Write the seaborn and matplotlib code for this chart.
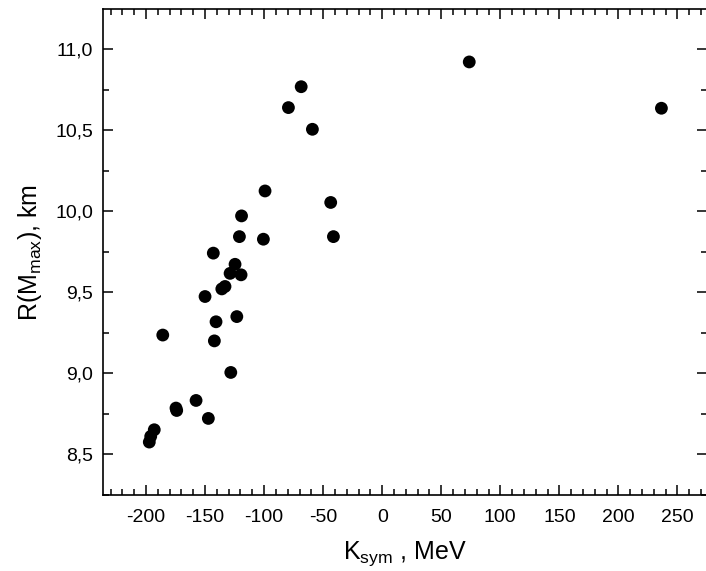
import matplotlib
matplotlib.use("Agg")
import matplotlib.pyplot as plt
import seaborn as sns
import pandas as pd
from matplotlib.ticker import MultipleLocator, FuncFormatter

k_sym = [-197.2, -196.0, -193.0, -174.6, -174.0, -157.6, -147.2, -185.8, -128.2, -142.1,
         -140.7, -123.1, -150.0, -135.8, -133.1, -128.8, -124.6, -119.5, -143.0, -120.9,
         -119.1, -100.6, -99.2, -43.6, -41.3, -79.4, -68.6, -59.1, 73.7, 236.4]
r_mmax = [8.574, 8.609, 8.650, 8.784, 8.769, 8.831, 8.720, 9.235, 9.004, 9.199,
          9.317, 9.349, 9.473, 9.520, 9.535, 9.616, 9.672, 9.607, 9.741, 9.843,
          9.971, 9.827, 10.125, 10.054, 9.843, 10.640, 10.769, 10.506, 10.922, 10.636]

df = pd.DataFrame({"K_sym": k_sym, "R": r_mmax})

sns.set_style("ticks")
plt.rcParams["font.family"] = ["Liberation Sans", "DejaVu Sans"]
plt.rcParams["mathtext.fontset"] = "custom"
plt.rcParams["mathtext.rm"] = "Liberation Sans"
plt.rcParams["mathtext.it"] = "Liberation Sans:italic"
plt.rcParams["mathtext.bf"] = "Liberation Sans:bold"
plt.rcParams["text.color"] = "black"
plt.rcParams["axes.labelcolor"] = "black"

fig = plt.figure(figsize=(7.06, 5.71), dpi=100)
ax = fig.add_axes([103 / 706, 76 / 571, 604 / 706, 486 / 571])

sns.scatterplot(data=df, x="K_sym", y="R", ax=ax, color="black", s=85,
                edgecolor="none", linewidth=0)

ax.set_xlim(-236.4, 275)
ax.set_ylim(8.247, 11.249)

ax.xaxis.set_major_locator(MultipleLocator(50))
ax.xaxis.set_minor_locator(MultipleLocator(10))
ax.yaxis.set_major_locator(MultipleLocator(0.5))
ax.yaxis.set_minor_locator(MultipleLocator(0.25))
ax.yaxis.set_major_formatter(FuncFormatter(lambda v, p: f"{v:.1f}".replace(".", ",")))
ax.xaxis.set_major_formatter(FuncFormatter(lambda v, p: f"{v:.0f}"))

ax.tick_params(which="both", direction="in", top=True, right=True,
               labeltop=False, labelright=False, width=1.1, labelsize=14,
               colors="black")
ax.tick_params(which="major", length=7)
ax.tick_params(which="minor", length=4)
ax.tick_params(axis="x", which="major", pad=10)
ax.tick_params(axis="y", which="major", pad=7)

for sp in ax.spines.values():
    sp.set_visible(True)
    sp.set_linewidth(1.2)
    sp.set_color("black")

ax.set_xlabel(r"K$_{\mathrm{sym}}$ , MeV", fontsize=18, labelpad=10, color="black")
ax.set_ylabel(r"R(M$_{\mathrm{max}}$), km", fontsize=18, labelpad=8, color="black")

fig.savefig("out.png", dpi=100)
